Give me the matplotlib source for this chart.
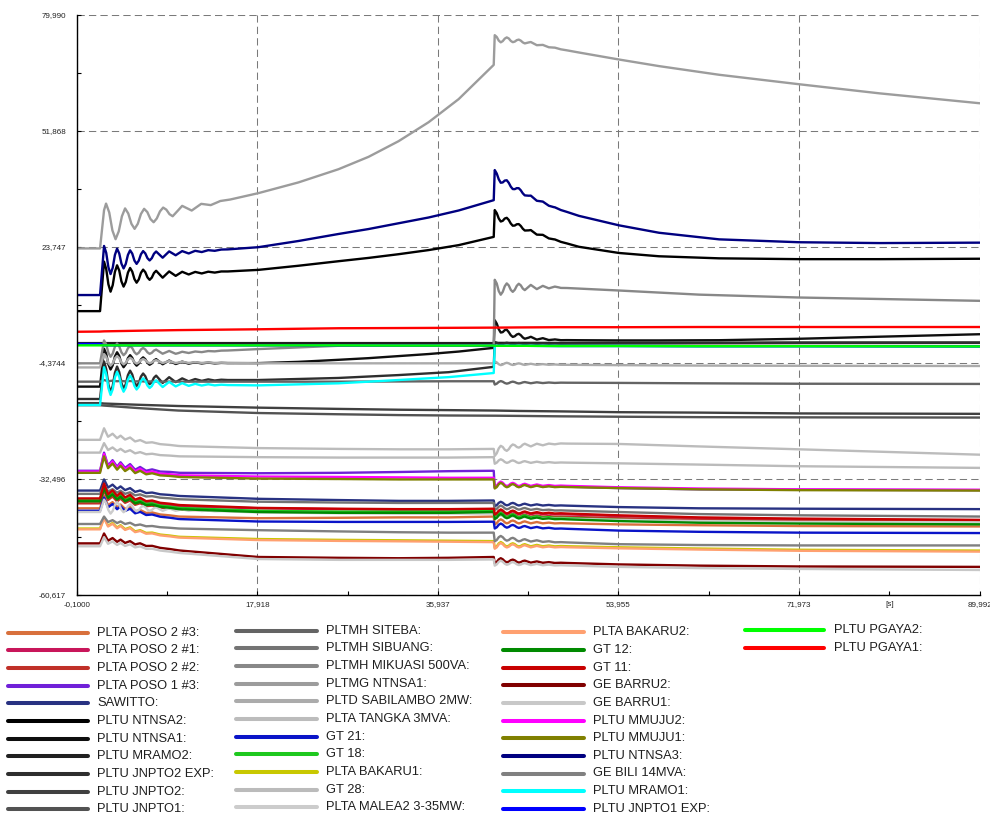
import numpy as np
import matplotlib
matplotlib.use("Agg")
import matplotlib.pyplot as plt
from matplotlib.lines import Line2D

plt.rcParams['font.family'] = ['Liberation Sans', 'DejaVu Sans']

# Simulation time axis [s] and the two disturbance instants
t_event1 = 2.2
t_event2 = 41.6

# Times at which the slow trend of a curve is given
knot_t = [-0.1, 2.2, 2.6, 6, 10, 18, 26, 32, 37, 41.5, 41.6, 44, 48, 54, 62, 72, 89.992]
# finer set for the strongly curved traces
knot_t_fine = [-0.1, 2.2, 2.6, 6, 10, 14, 18, 22, 26, 29, 32, 35, 38, 41.5, 41.6,
               43, 45, 47.5, 50, 54, 58, 64, 72, 80, 89.992]

# Swing shapes after the first disturbance (relative time, normalised value)
osc_fast_t = [0, 0.4, 0.617, 0.833, 1.05, 1.267, 1.483, 1.7, 1.917, 2.133, 2.35, 2.567,
              2.783, 3.0, 3.217, 3.433, 3.65, 3.867, 4.083, 4.3, 4.517, 4.733, 4.95,
              5.167, 5.383, 5.6, 6.25, 6.9, 7.55, 8.2, 8.85, 9.5, 10.15, 10.8, 11.45,
              12.1, 12.75]
osc_fast_v = [0, 1.0, 0.54, -0.39, -0.85, -0.46, 0.33, 0.72, 0.39, -0.27, -0.6, -0.33,
              0.225, 0.5, 0.27, -0.19, -0.42, -0.23, 0.16, 0.35, 0.19, -0.13, -0.29,
              -0.16, 0.11, 0.24, -0.2, 0.16, -0.13, 0.1, -0.08, 0.06, -0.05, 0.04, -0.03,
              0.02, 0]
osc_slow_t = [0, 0.6, 0.917, 1.233, 1.55, 1.867, 2.183, 2.5, 2.817, 3.133, 3.45, 3.767,
              4.083, 4.4, 4.717, 5.033, 5.35, 5.667, 5.983, 6.3, 6.617, 6.933, 7.25, 8.2,
              9.15, 10.1, 11.05, 12.0, 13.0]
osc_slow_v = [0, 1.0, 0.51, -0.46, -0.95, -0.56, 0.21, 0.6, 0.31, -0.26, -0.55, -0.31,
              0.18, 0.42, 0.22, -0.18, -0.38, -0.21, 0.13, 0.3, 0.16, -0.11, -0.25, 0.2,
              -0.15, 0.1, -0.07, 0.04, 0]
osc_low_t = [0, 0.4, 0.8, 1.25, 1.7, 2.05, 2.5, 3.0, 3.5, 4.0, 4.6, 5.2, 6.0, 7.0, 8.0]
osc_low_v = [0, 1.0, 0.3, 0.6, 0.25, 0.5, 0.2, 0.42, 0.12, 0.28, 0.08, 0.16, 0.05, 0.04, 0]

# Swing shape after the second disturbance
osc2_t = [0, 0.2, 0.4, 0.6, 0.8, 1.0, 1.2, 1.4, 1.6, 1.8, 2.0, 2.2, 2.4, 2.6, 2.8, 3.0,
          3.6, 4.2, 4.8, 5.4, 6.0, 6.6, 7.2]
osc2_v = [1.0, 0.64, -0.09, -0.45, -0.2, 0.3, 0.55, 0.34, -0.09, -0.3, -0.125, 0.225,
          0.4, 0.25, -0.05, -0.2, 0.28, -0.12, 0.18, -0.06, 0.1, -0.02, 0]

# Trend of each generator signal at knot_t (or knot_t_fine)
poso2_3 = [-39.6, -39.6, -39.6, -40.8, -41.6, -42.0, -41.9, -41.8, -41.8, -41.6, -42.6, -42.9, -43.2, -43.5, -43.7, -43.9, -44.0]
poso2_1 = [-37.6, -37.6, -37.6, -38.4, -39.1, -39.6, -39.8, -39.9, -39.9, -39.8, -40.4, -40.7, -41.0, -41.5, -42.0, -42.3, -42.6]
poso2_2 = [-38.4, -38.4, -38.4, -39.2, -39.9, -40.4, -40.5, -40.5, -40.5, -40.4, -41.0, -41.3, -41.6, -42.0, -42.4, -42.6, -42.8]
poso1_3 = [-30.5, -30.5, -30.5, -30.8, -31.0, -31.1, -31.0, -30.8, -30.6, -30.5, -33.6, -34.0, -34.3, -34.7, -35.0, -35.1, -35.2]
sawitto = [-35.3, -35.3, -35.3, -36.0, -36.6, -37.3, -37.6, -37.8, -37.8, -37.7, -38.3, -38.6, -38.9, -39.3, -39.6, -39.7, -39.8]
ntnsa2 = [8.2, 8.2, 16.2, 16.8, 17.3, 17.7, 18.2, 19.2, 20.3, 21.1, 22.0, 23.0, 24.2, 26.2, 31.2,
          29.8, 27.6, 25.5, 23.8, 22.3, 21.5, 21.0, 20.8, 20.8, 20.9]
ntnsa1 = [-10.1, -10.1, -3.6, -3.9, -4.3, -4.4, -4.4, -4.1, -3.6, -3.2, -2.7, -2.2, -1.6, -0.7, 4.5,
          2.6, 1.6, 1.2, 1.15, 1.1, 1.1, 1.15, 1.5, 2.0, 2.6]
mramo2 = [0.45, 0.45, 0.45, 0.45, 0.45, 0.45, 0.45, 0.45, 0.45, 0.45, 0.5, 0.5, 0.5, 0.55, 0.55, 0.6, 0.6]
jnpto2_exp = [-13.1, -13.1, -8.0, -8.3, -8.5, -8.5, -8.0, -7.3, -6.6, -5.3, 0.3, 0.3, 0.3, 0.35, 0.4, 0.45, 0.5]
jnpto2 = [-14.1, -14.1, -14.2, -14.5, -14.8, -15.2, -15.5, -15.7, -15.8, -15.9, -15.9, -16.0, -16.1, -16.3, -16.4, -16.6, -16.7]
jnpto1 = [-14.6, -14.6, -14.7, -15.3, -15.9, -16.5, -16.8, -17.0, -17.1, -17.15, -17.15, -17.2, -17.3, -17.4, -17.5, -17.55, -17.6]
siteba = [-8.9, -8.9, -8.9, -8.9, -8.9, -8.9, -8.9, -8.85, -8.8, -8.8, -9.0, -9.1, -9.15, -9.2, -9.3, -9.4, -9.45]
sibuang = [-36.1, -36.1, -36.1, -36.8, -37.4, -38.0, -38.2, -38.3, -38.3, -38.3, -39.2, -39.6, -40.1, -40.5, -41.0, -41.3, -41.6]
mikuasi = [-4.45, -4.45, -1.0, -1.4, -1.9, -1.0, -0.2, -0.1, -0.1, -0.1, 13.2, 13.8, 13.9, 13.2, 12.2, 11.5, 10.7]
pltmg_ntnsa1 = [23.4, 23.4, 29.6, 30.8, 32.6, 34.6, 36.8, 39.4, 42.6, 45.6, 49.4, 54.0, 59.6, 67.9, 73.9,
                73.9, 73.2, 72.0, 70.9, 69.2, 67.6, 65.5, 63.2, 61.0, 58.6]
sabilambo = [-5.45, -5.45, -3.7, -3.9, -4.2, -4.45, -4.45, -4.45, -4.45, -4.45, -4.6, -4.7, -4.8, -4.9, -5.0, -5.05, -5.1]
tangka = [-23.0, -23.0, -23.0, -23.8, -24.5, -25.0, -25.2, -25.3, -25.3, -25.2, -25.4, -24.3, -23.9, -24.0, -24.6, -25.3, -26.6]
gt21 = [-40.2, -40.2, -40.2, -41.3, -42.2, -42.8, -42.9, -42.9, -42.9, -42.85, -43.6, -44.0, -44.5, -45.0, -45.3, -45.5, -45.6]
gt18 = [-37.6, -37.6, -37.6, -38.6, -39.5, -40.2, -40.4, -40.4, -40.4, -40.2, -41.0, -41.4, -41.9, -42.4, -42.8, -43.0, -43.2]
bakaru1 = [-44.5, -44.5, -44.5, -45.6, -46.5, -47.05, -47.25, -47.35, -47.45, -47.55, -48.15, -48.45, -48.75, -49.05, -49.35, -49.65, -49.85]
gt28 = [-26.1, -26.1, -26.1, -26.6, -27.0, -27.2, -27.3, -27.3, -27.3, -27.2, -28.0, -28.3, -28.5, -28.7, -29.0, -29.4, -29.8]
malea2 = [-40.5, -40.5, -39.3, -39.6, -40.0, -40.6, -40.8, -40.9, -40.9, -40.9, -41.5, -41.8, -42.1, -42.4, -42.7, -42.9, -43.0]
bakaru2 = [-44.7, -44.7, -44.7, -45.8, -46.7, -47.3, -47.5, -47.6, -47.7, -47.8, -48.4, -48.7, -49.0, -49.3, -49.6, -49.9, -50.1]
gt12 = [-37.9, -37.9, -37.9, -38.9, -39.8, -40.5, -40.7, -40.7, -40.7, -40.5, -41.3, -41.7, -42.2, -42.7, -43.1, -43.3, -43.5]
gt11 = [-37.2, -37.2, -37.2, -38.0, -38.8, -39.5, -39.7, -39.8, -39.8, -39.7, -40.2, -40.5, -40.8, -41.3, -41.8, -42.1, -42.4]
barru2 = [-48.1, -48.1, -48.1, -48.7, -49.8, -51.4, -51.6, -51.7, -51.6, -51.4, -52.0, -52.4, -52.8, -53.2, -53.5, -53.7, -53.8]
barru1 = [-48.8, -48.8, -48.8, -49.4, -50.4, -51.9, -52.1, -52.1, -52.1, -52.0, -52.6, -53.0, -53.4, -53.8, -54.1, -54.3, -54.55]
mmuju2 = [-30.7, -30.7, -30.7, -31.2, -31.6, -31.9, -32.0, -32.1, -32.2, -32.2, -33.5, -33.8, -34.1, -34.5, -34.8, -35.0, -35.1]
mmuju1 = [-31.0, -31.0, -31.0, -31.6, -32.0, -32.4, -32.5, -32.6, -32.6, -32.6, -33.8, -34.1, -34.4, -34.7, -35.0, -35.2, -35.3]
ntnsa3 = [12.1, 12.1, 20.2, 21.3, 22.3, 23.0, 23.7, 25.2, 26.9, 28.1, 29.5, 30.9, 32.6, 35.1, 40.9,
          38.8, 36.0, 33.3, 31.3, 29.0, 27.2, 25.6, 24.9, 24.7, 24.8]
bili = [-43.4, -43.4, -43.4, -44.0, -44.5, -44.9, -45.2, -45.4, -45.5, -45.5, -46.6, -47.2, -47.8, -48.3, -48.5, -48.6, -48.6]
mramo1 = [-14.56, -14.56, -9.0, -9.3, -9.6, -9.8, -9.3, -8.5, -7.8, -6.8, -0.2, -0.2, -0.25, -0.25, -0.3, -0.3, -0.35]
jnpto1_exp = [0.25, 0.25, -0.1, -0.1, -0.1, -0.1, -0.1, -0.15, -0.15, -0.15, -0.2, -0.2, -0.25, -0.25, -0.3, -0.3, -0.35]
pgaya2 = [-0.1, -0.1, -0.1, -0.1, -0.1, -0.1, -0.1, -0.15, -0.15, -0.15, -0.2, -0.2, -0.25, -0.25, -0.3, -0.3, -0.35]
pgaya1 = [3.2, 3.25, 3.3, 3.45, 3.6, 3.8, 4.05, 4.1, 4.15, 4.2, 4.2, 4.25, 4.3, 4.3, 4.35, 4.35, 4.35]

labels = [
    "PLTA POSO 2 #3:", "PLTA POSO 2 #1:", "PLTA POSO 2 #2:", "PLTA POSO 1 #3:", "SAWITTO:",
    "PLTU NTNSA2:", "PLTU NTNSA1:", "PLTU MRAMO2:", "PLTU JNPTO2 EXP:", "PLTU JNPTO2:",
    "PLTU JNPTO1:",
    "PLTMH SITEBA:", "PLTMH SIBUANG:", "PLTMH MIKUASI 500VA:", "PLTMG NTNSA1:",
    "PLTD SABILAMBO 2MW:", "PLTA TANGKA 3MVA:", "GT 21:", "GT 18:", "PLTA BAKARU1:",
    "GT 28:", "PLTA MALEA2 3-35MW:",
    "PLTA BAKARU2:", "GT 12:", "GT 11:", "GE BARRU2:", "GE BARRU1:", "PLTU MMUJU2:",
    "PLTU MMUJU1:", "PLTU NTNSA3:", "GE BILI 14MVA:", "PLTU MRAMO1:", "PLTU JNPTO1 EXP:",
    "PLTU PGAYA2:", "PLTU PGAYA1:",
]
trends = [
    poso2_3, poso2_1, poso2_2, poso1_3, sawitto, ntnsa2, ntnsa1, mramo2, jnpto2_exp, jnpto2,
    jnpto1, siteba, sibuang, mikuasi, pltmg_ntnsa1, sabilambo, tangka, gt21, gt18, bakaru1,
    gt28, malea2, bakaru2, gt12, gt11, barru2, barru1, mmuju2, mmuju1, ntnsa3, bili, mramo1,
    jnpto1_exp, pgaya2, pgaya1,
]
# swing shape and size after each disturbance
swing1_kind = ["low", "low", "low", "low", "low", "fast", "fast", None, "fast", None,
               None, "low", "low", "fast", "slow", "fast", "low", "low", "low", "low",
               "low", "fast", "low", "low", "low", "low", "low", "low", "low", "fast",
               "low", "fast", None, None, None]
swing1_amp = [3.0, 3.3, 3.1, 4.4, 2.7, 4.0, 2.7, 0, 4.0, 0,
              0, 0.4, 2.2, 2.1, 4.6, 1.5, 2.8, 3.2, 3.3, 2.7,
              2.3, 1.8, 2.7, 3.2, 3.6, 2.4, 2.2, 4.3, 4.0, 3.8,
              1.8, 3.6, 0, 0, 0]
swing2_amp = [-0.9, -0.9, -0.9, -1.0, -0.8, 1.5, 1.5, 0, 0.4, 0,
              0, -0.6, -0.8, 2.6, 1.2, 0.6, -1.5, -0.9, -0.9, -1.0,
              -0.8, -0.6, -1.0, -0.9, -0.9, -0.9, -0.9, -1.0, -1.0, 1.5,
              -1.0, 0, 0, 0, 0]

colors = [
    "#d8703c", "#c8165a", "#c03028", "#7020d8", "#283282", "#000000", "#0e0e0e", "#202020",
    "#2e2e2e", "#404040", "#525252", "#646464", "#747474", "#888888", "#9c9c9c", "#ababab",
    "#bcbcbc", "#0a14c8", "#1ec81e", "#c8c800", "#bbbbbb", "#cccccc", "#ffa070", "#008a00",
    "#c80000", "#800000", "#c8c8c8", "#ff00ff", "#808000", "#000080", "#808080", "#00ffff",
    "#0000ff", "#00ff00", "#ff0000",
]

xticks = [-0.1, 17.918, 35.937, 53.955, 71.973, 89.992]
xtick_labels = ["-0,1000", "17,918", "35,937", "53,955", "71,973", "89,992"]
yticks = [-60.617, -32.496, -4.3744, 23.747, 51.868, 79.990]
ytick_labels = ["-60,617", "-32,496", "-4,3744", "23,747", "51,868", "79,990"]

shapes = {"fast": (osc_fast_t, osc_fast_v), "slow": (osc_slow_t, osc_slow_v),
          "low": (osc_low_t, osc_low_v)}


def build_curve(trend, kind, amp1, amp2):
    knots = knot_t_fine if len(trend) == len(knot_t_fine) else knot_t
    parts = [np.array(knots)]
    if kind:
        st, sv = shapes[kind]
        parts.append(t_event1 + np.array(st))
    if amp2:
        parts.append(t_event2 + np.array(osc2_t))
    t = np.unique(np.concatenate(parts))
    y = np.interp(t, knots, trend)
    if kind:
        y = y + amp1 * np.interp(t, t_event1 + np.array(st), sv, left=0, right=0)
    if amp2:
        y = y + amp2 * np.interp(t, t_event2 + np.array(osc2_t), osc2_v, left=0, right=0)
    return t, y


W, H = 990, 817
fig = plt.figure(figsize=(W / 100, H / 100), dpi=100)
ax = fig.add_axes([77 / W, 1 - 595 / H, (979.5 - 77) / W, (595 - 15) / H])

for trend, kind, a1, a2, c in zip(trends, swing1_kind, swing1_amp, swing2_amp, colors):
    t, y = build_curve(trend, kind, a1, a2)
    ax.plot(t, y, color=c, linewidth=1.7, solid_joinstyle='round', zorder=3)

ax.set_xlim(xticks[0], xticks[-1])
ax.set_ylim(yticks[0], yticks[-1])
ax.set_xticks(xticks)
ax.set_xticklabels(xtick_labels)
ax.set_yticks(yticks)
ax.set_yticklabels(ytick_labels)

xminor = [(a + b) / 2 for a, b in zip(xticks[:-1], xticks[1:])]
yminor = [(a + b) / 2 for a, b in zip(yticks[:-1], yticks[1:])]
ax.set_xticks(xminor, minor=True)
ax.set_xticklabels(["", "", "", "", "[s]"], minor=True)
ax.set_yticks(yminor, minor=True)

ax.tick_params(which='both', direction='in', length=3, width=0.8, colors='#000000',
               labelcolor='#222222', labelsize=5.8)
ax.tick_params(axis='x', which='both', pad=4.5)
ax.tick_params(axis='y', which='both', pad=8)

ax.grid(True, which='major', color='#7a7a7a', linestyle=(0, (7, 4)), linewidth=0.75, zorder=1)
for side in ('top', 'right'):
    ax.spines[side].set_visible(False)
for side in ('left', 'bottom'):
    ax.spines[side].set_linewidth(1.0)
    ax.spines[side].set_color('#000000')
    ax.spines[side].set_zorder(4)

# legend block under the plot, four columns
col_layout = [(8, 88, 97, 632.7), (236, 317, 326, 630.7), (503, 584, 593, 632.3), (745, 824, 834, 630.0)]
col_sizes = [11, 11, 11, 2]
row_step = 17.65
idx = 0
for (x0, x1, xt, y0), n in zip(col_layout, col_sizes):
    for r in range(n):
        yy = 1 - (y0 + r * row_step) / H
        fig.add_artist(Line2D([x0 / W, x1 / W], [yy, yy], transform=fig.transFigure,
                              color=colors[idx], linewidth=2.9, solid_capstyle='round'))
        fig.text(xt / W, yy, labels[idx], fontsize=9.3, color='#1e1e1e', va='center', ha='left')
        idx += 1

fig.savefig("out.png", dpi=100)
